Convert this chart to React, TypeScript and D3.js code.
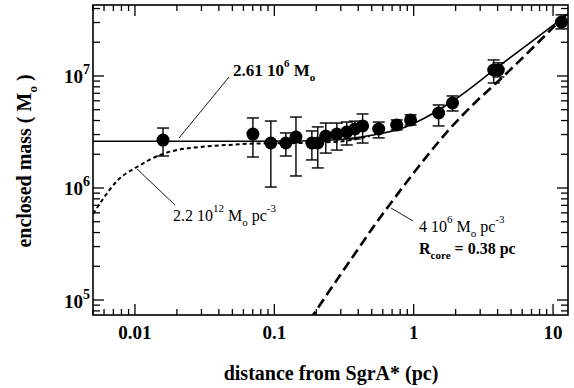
import React from "react";
import * as d3 from "d3";

// ---- data ----
const radius = [0.0159, 0.0702, 0.0944, 0.121, 0.143, 0.186, 0.205, 0.234, 0.281, 0.331, 0.378, 0.43, 0.561, 0.755, 0.95, 1.51, 1.9, 3.75, 4.05, 11.5];
const mass = [2.68e6, 3.03e6, 2.52e6, 2.52e6, 2.85e6, 2.52e6, 2.52e6, 2.91e6, 3.03e6, 3.16e6, 3.36e6, 3.58e6, 3.36e6, 3.65e6, 4.05e6, 4.67e6, 5.74e6, 1.13e7, 1.13e7, 3.03e7];
const massLow = [1.93e6, 1.89e6, 1.02e6, 1.93e6, 1.28e6, 1.78e6, 1.51e6, 2.05e6, 2.18e6, 2.42e6, 2.74e6, 2.52e6, 2.8e6, 3.3e6, 3.65e6, 3.58e6, 4.87e6, 8.66e6, 9.8e6, 2.63e7];
const massHigh = [3.43e6, 4.22e6, 3.96e6, 3.1e6, 4.3e6, 3.23e6, 3.51e6, 3.8e6, 3.8e6, 3.88e6, 3.95e6, 4.58e6, 3.88e6, 4.05e6, 4.5e6, 5.51e6, 6.63e6, 1.39e7, 1.31e7, 3.51e7];

// total model: point mass + cluster (solid)
const totalR = [0.005, 0.0667, 0.152, 0.295, 0.484, 0.794, 1.2, 1.905, 3.94, 11.5, 13.1];
const totalM = [2.61e6, 2.61e6, 2.63e6, 2.71e6, 2.94e6, 3.36e6, 4.22e6, 5.98e6, 1.18e7, 3.23e7, 3.65e7];

// dark cluster model 2.2e12 Mo pc^-3 (short dashes)
const darkR = [0.005, 0.0059, 0.00743, 0.01033, 0.0151, 0.021, 0.0292, 0.0457, 0.0787, 0.152, 0.295, 0.484];
const darkM = [5.86e5, 7.98e5, 1.155e6, 1.54e6, 1.97e6, 2.21e6, 2.32e6, 2.42e6, 2.5e6, 2.52e6, 2.6e6, 2.91e6];

// stellar cluster model 4e6 Mo pc^-3, Rcore 0.38 pc (long dashes)
const starR = [0.1797, 0.2715, 0.3904, 0.5706, 0.695, 0.891, 1.2, 1.81, 2.74, 4.13, 7.62, 13.1];
const starM = [6.63e4, 1.42e5, 2.74e5, 5.4e5, 7.5e5, 1.13e6, 1.82e6, 3.36e6, 5.74e6, 9.21e6, 1.93e7, 3.8e7];

const xTickValues = [0.01, 0.1, 1, 10];
const xTickLabels = ["0.01", "0.1", "1", "10"];
const yTickValues = [1e5, 1e6, 1e7];
const yTickExps = ["5", "6", "7"];

const FONT = "Liberation Serif, DejaVu Serif, Times New Roman, serif";

export default function App() {
  const L = 93, R = 568, T = 5, B = 315;
  const x = d3.scaleLog().domain([0.005, 12.8]).range([L, R]);
  const y = d3.scaleLog().domain([7.35e4, 4.3e7]).range([B, T]);

  const isMajor = (v: number) => Math.abs(Math.log10(v) - Math.round(Math.log10(v))) < 1e-6;
  const xt = x.ticks();
  const yt = y.ticks();

  const line = d3
    .line<[number, number]>()
    .x((d) => x(d[0]))
    .y((d) => y(d[1]))
    .curve(d3.curveMonotoneX);

  const totalPath = line(totalR.map((r, i) => [r, totalM[i]] as [number, number])) || "";
  const darkPath = line(darkR.map((r, i) => [r, darkM[i]] as [number, number])) || "";
  const starPath = line(starR.map((r, i) => [r, starM[i]] as [number, number])) || "";

  return (
    <svg width={574} height={388} style={{ position: "absolute", left: 0, top: 0, background: "#fff", fontFamily: FONT }}>
      <rect x={0} y={0} width={574} height={388} fill="#fff" />
      <defs>
        <clipPath id="plot">
          <rect x={L} y={T} width={R - L} height={B - T} />
        </clipPath>
      </defs>

      {/* ticks */}
      <g stroke="#000" strokeWidth={1.3}>
        {xt.map((v, i) => {
          const len = isMajor(v) ? 11 : 6;
          const px = x(v);
          return (
            <g key={"xt" + i}>
              <line x1={px} x2={px} y1={B} y2={B - len} />
              <line x1={px} x2={px} y1={T} y2={T + len} />
            </g>
          );
        })}
        {yt.map((v, i) => {
          const len = isMajor(v) ? 11 : 7;
          const py = y(v);
          return (
            <g key={"yt" + i}>
              <line x1={L} x2={L + len} y1={py} y2={py} />
              <line x1={R} x2={R - len} y1={py} y2={py} />
            </g>
          );
        })}
      </g>

      {/* curves */}
      <g clipPath="url(#plot)" fill="none" stroke="#000">
        <path d={totalPath} strokeWidth={1.6} />
        <path d={darkPath} strokeWidth={2} strokeDasharray="4 3" />
        <path d={starPath} strokeWidth={2.6} strokeDasharray="10 5" />
      </g>

      {/* data points with error bars */}
      <g stroke="#000" strokeWidth={1.4}>
        {radius.map((r, i) => {
          const px = x(r);
          return (
            <g key={"eb" + i}>
              <line x1={px} x2={px} y1={y(massLow[i])} y2={y(massHigh[i])} />
              <line x1={px - 6} x2={px + 6} y1={y(massLow[i])} y2={y(massLow[i])} />
              <line x1={px - 6} x2={px + 6} y1={y(massHigh[i])} y2={y(massHigh[i])} />
            </g>
          );
        })}
      </g>
      <g fill="#000">
        {radius.map((r, i) => (
          <circle key={"pt" + i} cx={x(r)} cy={y(mass[i])} r={6.5} />
        ))}
      </g>

      {/* frame */}
      <rect x={L} y={T} width={R - L} height={B - T} fill="none" stroke="#000" strokeWidth={1.6} />

      {/* tick labels */}
      <g fontWeight="bold" fontSize={19} fill="#000" style={{ fontFamily: FONT }}>
        {xTickValues.map((v, i) => (
          <text key={"xl" + i} x={x(v)} y={339} textAnchor="middle">
            {xTickLabels[i]}
          </text>
        ))}
        {yTickValues.map((v, i) => (
          <text key={"yl" + i} x={90} y={y(v) + 7.5} textAnchor="end">
            10
            <tspan fontSize={14} dy={-9}>
              {yTickExps[i]}
            </tspan>
          </text>
        ))}
      </g>

      {/* axis titles */}
      <g style={{ fontFamily: FONT }}>
        <text x={331} y={380} textAnchor="middle" fontWeight="bold" fontSize={20}>
          distance from SgrA* (pc)
        </text>
        <text transform="translate(31,161) rotate(-90)" textAnchor="middle" fontWeight="bold" fontSize={20}>
          enclosed mass ( M
          <tspan fontSize={13} dy={6}>o</tspan>
          <tspan dy={-6}> )</tspan>
        </text>
      </g>

      {/* annotations */}
      <g stroke="#000" strokeWidth={0.9}>
        <line x1={179} y1={138} x2={229} y2={77} />
        <line x1={137} y1={169} x2={175} y2={205} />
        <line x1={391} y1={208} x2={413} y2={221} />
      </g>
      <g style={{ fontFamily: FONT }}>
        <text x={233} y={76} fontWeight="bold" fontSize={17}>
          2.61 10
          <tspan fontSize={11} dy={-9}>6</tspan>
          <tspan dy={9}> M</tspan>
          <tspan fontSize={11} dy={5}>o</tspan>
        </text>
        <text x={173} y={221} fontSize={16}>
          2.2 10
          <tspan fontSize={11} dy={-9}>12</tspan>
          <tspan dy={9}> M</tspan>
          <tspan fontSize={11} dy={5}>o</tspan>
          <tspan dy={-5}> pc</tspan>
          <tspan fontSize={11} dy={-9}>-3</tspan>
        </text>
        <text x={419} y={232} fontSize={16}>
          4 10
          <tspan fontSize={11} dy={-9}>6</tspan>
          <tspan dy={9}> M</tspan>
          <tspan fontSize={11} dy={5}>o</tspan>
          <tspan dy={-5}> pc</tspan>
          <tspan fontSize={11} dy={-9}>-3</tspan>
        </text>
        <text x={419} y={254} fontSize={16} fontWeight="bold">
          R
          <tspan fontSize={11} dy={5}>core</tspan>
          <tspan dy={-5}> = 0.38 pc</tspan>
        </text>
      </g>
    </svg>
  );
}
